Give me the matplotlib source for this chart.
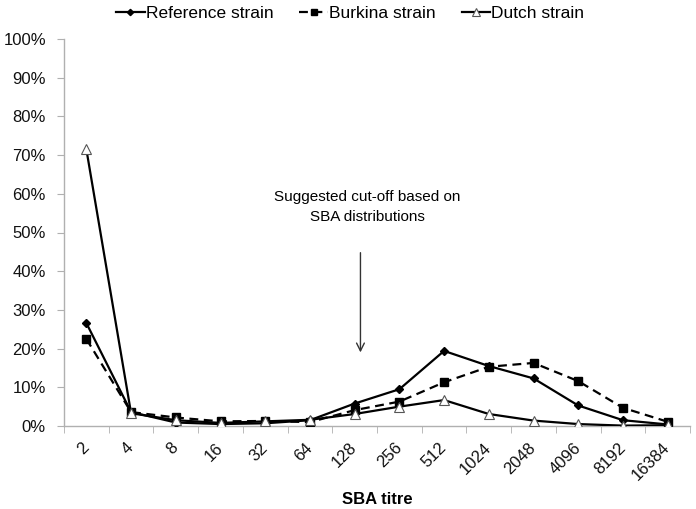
import matplotlib
matplotlib.use("Agg")
import matplotlib.pyplot as plt
import numpy as np

plt.rcParams['font.family'] = ['Liberation Sans', 'DejaVu Sans']

titres = ["2", "4", "8", "16", "32", "64", "128", "256", "512", "1024", "2048", "4096", "8192", "16384"]
reference = [26.6, 3.6, 0.9, 0.5, 0.7, 1.5, 5.8, 9.5, 19.4, 15.5, 12.3, 5.3, 1.5, 0.4]
burkina = [22.5, 3.6, 2.2, 1.2, 1.3, 1.0, 4.1, 6.3, 11.3, 15.3, 16.3, 11.6, 4.7, 1.1]
dutch = [71.5, 3.3, 1.5, 0.8, 1.2, 1.6, 3.1, 5.0, 6.7, 3.1, 1.4, 0.5, 0.1, 0.2]

fig = plt.figure(figsize=(6.96, 5.09), dpi=100)
ax = fig.add_axes([64/696, 1-426/509, (690-64)/696, (426-39)/509])

x = np.arange(len(titres))
ax.plot(x, reference, color='black', lw=1.6, marker='D', ms=4, mfc='black', mec='black', label='Reference strain', zorder=3)
ax.plot(x, burkina, color='black', lw=1.6, ls=(0, (4, 2.5)), marker='s', ms=6, mfc='black', mec='black', label='Burkina strain', zorder=3)
ax.plot(x, dutch, color='black', lw=1.6, marker='^', ms=6.5, mfc='white', mec='#555555', mew=0.8, label='Dutch strain', zorder=4)

ax.set_xlim(-0.5, len(titres) - 0.5)
ax.set_ylim(0, 100)
ax.set_yticks(np.arange(0, 101, 10))
ax.set_yticklabels([f"{v}%" for v in range(0, 101, 10)], fontsize=12, color='#111111')
ax.set_xticks(x)
ax.set_xticklabels(titres, rotation=45, fontsize=12, ha='right', va='center',
                   rotation_mode='anchor', color='#111111')
ax.tick_params(axis='x', length=0, pad=14)
ax.set_xticks(np.arange(-0.5, len(titres)), minor=True)
ax.tick_params(axis='x', which='minor', length=5, color='#b0b0b0', direction='out')
ax.tick_params(axis='y', length=5, color='#b0b0b0', direction='out', pad=8)

for s in ['top', 'right']:
    ax.spines[s].set_visible(False)
for s in ['left', 'bottom']:
    ax.spines[s].set_color('#b0b0b0')
    ax.spines[s].set_linewidth(1.0)

fig.text(377/696, 1-500/509, "SBA titre", fontsize=12, fontweight='bold', ha='center', va='center')

ax.text(6.29, 59.2, "Suggested cut-off based on", ha='center', va='center', fontsize=11)
ax.text(6.29, 54.0, "SBA distributions", ha='center', va='center', fontsize=11)
ax.annotate("", xy=(6.13, 18.3), xytext=(6.13, 45.5),
            arrowprops=dict(arrowstyle='->', color='#333333', lw=1.0, mutation_scale=14))

leg = fig.legend(loc='upper center', bbox_to_anchor=(0.503, 1.02), ncol=3, frameon=False, fontsize=12.5,
                 handlelength=1.65, handletextpad=0.05, columnspacing=1.5, markerscale=0.8)

fig.savefig("out.png", dpi=100)
